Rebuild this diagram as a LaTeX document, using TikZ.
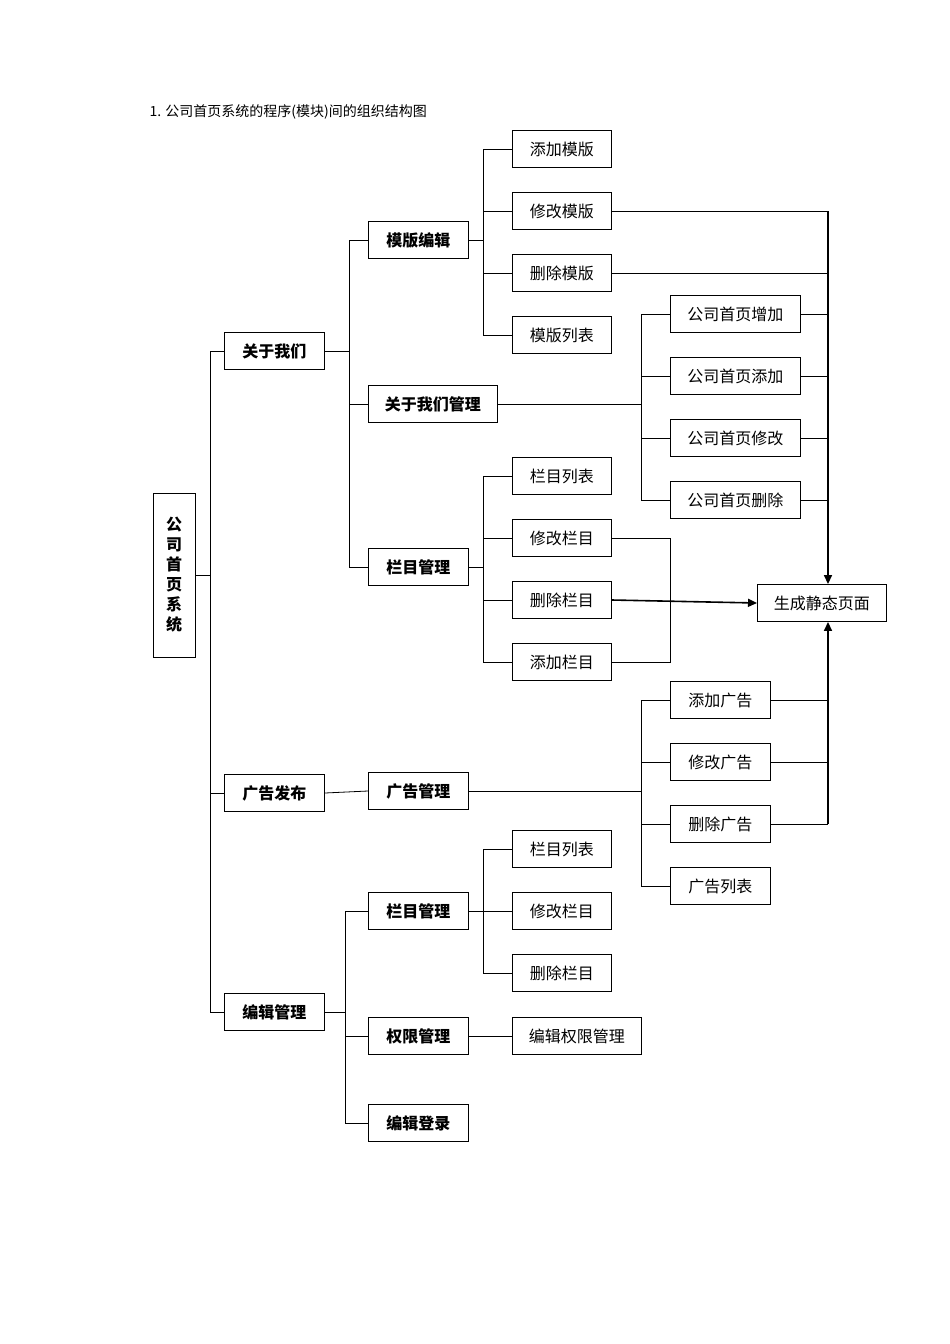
\documentclass[tikz,border=0pt]{standalone}
\usepackage{fontspec}
\setmainfont{Noto Sans CJK SC}
\usetikzlibrary{arrows.meta}
\begin{document}
\begin{tikzpicture}[x=1pt,y=-1pt,
 bx/.style={draw,line width=0.9pt,minimum height=37pt,inner sep=0pt,font=\fontsize{16}{18}\selectfont,anchor=west},
 bb/.style={bx,font=\fontsize{16}{18}\selectfont\bfseries},
 ln/.style={line width=0.8pt},
 th/.style={line width=1.6pt},
 ar/.style={th,-{Triangle[length=9pt,width=8pt]}}]
\useasboundingbox (0,0) rectangle (950,1344);
\node[anchor=west,font=\fontsize{14}{16}\selectfont] (title) at (146,112) {1. 公司首页系统的程序(模块)间的组织结构图};
\node[bb,minimum width=42pt,minimum height=164pt,align=center,anchor=center] (root) at (174,575) {公\\[2pt]司\\[2pt]首\\[2pt]页\\[2pt]系\\[2pt]统};
\node[bb,minimum width=100pt] (a) at (224,351) {关于我们};
\node[bb,minimum width=100pt] (b) at (224,793) {广告发布};
\node[bb,minimum width=100pt] (c) at (224,1012) {编辑管理};
\node[bb,minimum width=100pt] (a1) at (368,240) {模版编辑};
\node[bb,minimum width=129pt] (a2) at (368,404) {关于我们管理};
\node[bb,minimum width=100pt] (a3) at (368,567) {栏目管理};
\node[bb,minimum width=100pt] (b1) at (368,791) {广告管理};
\node[bb,minimum width=100pt] (c1) at (368,911) {栏目管理};
\node[bb,minimum width=100pt] (c2) at (368,1036) {权限管理};
\node[bb,minimum width=100pt] (c3) at (368,1123) {编辑登录};
\foreach \n/\t/\y in {m1/添加模版/149,m2/修改模版/211,m3/删除模版/273,m4/模版列表/335,
  l1/栏目列表/476,l2/修改栏目/538,l3/删除栏目/600,l4/添加栏目/662,
  k1/栏目列表/849,k2/修改栏目/911,k3/删除栏目/973}
  \node[bx,minimum width=99pt] (\n) at (512,\y) {\t};
\node[bx,minimum width=129pt] (k4) at (512,1036) {编辑权限管理};
\foreach \n/\t/\y in {g1/公司首页增加/314,g2/公司首页添加/376,g3/公司首页修改/438,g4/公司首页删除/500}
  \node[bx,minimum width=130pt] (\n) at (670,\y) {\t};
\foreach \n/\t/\y in {d1/添加广告/700,d2/修改广告/762,d3/删除广告/824,d4/广告列表/886}
  \node[bx,minimum width=100pt] (\n) at (670,\y) {\t};
\node[bx,minimum width=129pt] (s) at (757,603) {生成静态页面};
% tree connectors
\coordinate (T0) at (210,0); \coordinate (T1) at (349,0); \coordinate (T2) at (483,0);
\coordinate (T3) at (641,0); \coordinate (T4) at (345,0); \coordinate (T5) at (828,0);
\draw[ln] (root.east) -- (root.east -| T0);
\draw[ln] (T0 |- a.west) -- (T0 |- c.west);
\foreach \n in {a,b,c} \draw[ln] (T0 |- \n.west) -- (\n.west);
\draw[ln] (a.east) -- (a.east -| T1);
\draw[ln] (T1 |- a1.west) -- (T1 |- a3.west);
\foreach \n in {a1,a2,a3} \draw[ln] (T1 |- \n.west) -- (\n.west);
\draw[ln] (a1.east) -- (a1.east -| T2);
\draw[ln] (T2 |- m1.west) -- (T2 |- m4.west);
\foreach \n in {m1,m2,m3,m4} \draw[ln] (T2 |- \n.west) -- (\n.west);
\draw[ln] (a2.east) -- (a2.east -| T3);
\draw[ln] (T3 |- g1.west) -- (T3 |- g4.west);
\foreach \n in {g1,g2,g3,g4} \draw[ln] (T3 |- \n.west) -- (\n.west);
\draw[ln] (a3.east) -- (a3.east -| T2);
\draw[ln] (T2 |- l1.west) -- (T2 |- l4.west);
\foreach \n in {l1,l2,l3,l4} \draw[ln] (T2 |- \n.west) -- (\n.west);
\draw[ln] (b.east) -- (b1.west);
\draw[ln] (b1.east) -- (b1.east -| T3);
\draw[ln] (T3 |- d1.west) -- (T3 |- d4.west);
\foreach \n in {d1,d2,d3,d4} \draw[ln] (T3 |- \n.west) -- (\n.west);
\draw[ln] (c.east) -- (c.east -| T4);
\draw[ln] (T4 |- c1.west) -- (T4 |- c3.west);
\foreach \n in {c1,c2,c3} \draw[ln] (T4 |- \n.west) -- (\n.west);
\draw[ln] (c1.east) -- (c1.east -| T2);
\draw[ln] (T2 |- k1.west) -- (T2 |- k3.west);
\foreach \n in {k1,k2,k3} \draw[ln] (T2 |- \n.west) -- (\n.west);
\draw[ln] (c2.east) -- (k4.west);
% to static page
\foreach \n in {m2,m3,g1,g2,g3,g4,d1,d2,d3} \draw[ln] (\n.east) -- (\n.east -| T5);
\draw[ar] (T5 |- m2.east) -- (s.north -| T5);
\draw[ar] (T5 |- d3.east) -- (s.south -| T5);
\coordinate (J) at (670,0);
\draw[ln] (l2.east) -- (l2.east -| J) -- (J |- l4.east) -- (l4.east);
\draw[ar] (l3.east) -- (s.west);
\end{tikzpicture}
\end{document}
